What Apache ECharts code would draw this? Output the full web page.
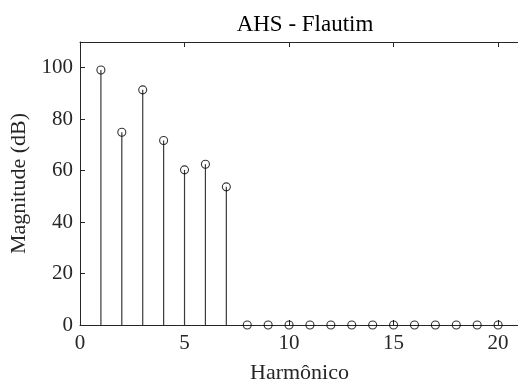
<!DOCTYPE html>
<html>
<head>
<meta charset="utf-8">
<script src="https://cdn.jsdelivr.net/npm/echarts@6/dist/echarts.min.js"></script>
<style>
  html, body { margin: 0; padding: 0; background: #fff; }
  #chart { width: 518px; height: 385px; }
</style>
</head>
<body>
<div id="chart"></div>
<script>
// harmonic numbers and their magnitudes (dB)
const harmonics = [1, 2, 3, 4, 5, 6, 7, 8, 9, 10, 11, 12, 13, 14, 15, 16, 17, 18, 19, 20];
const magnitudes = [99.1, 74.9, 91.4, 71.7, 60.3, 62.5, 53.7, 0, 0, 0, 0, 0, 0, 0, 0, 0, 0, 0, 0, 0];
const xTicks = [0, 5, 10, 15, 20];
const yTicks = [0, 20, 40, 60, 80, 100];

const stemData = harmonics.map((h, i) => [h, magnitudes[i]]);
const font = '"Liberation Serif", "DejaVu Serif", serif';
const axisColor = '#262626';
const textColor = '#262626';

const chart = echarts.init(document.getElementById('chart'));

const tickStyle = { show: true, inside: true, length: 5, lineStyle: { color: axisColor } };

chart.setOption({
  backgroundColor: '#fff',
  animation: false,
  title: {
    text: 'AHS - Flautim',
    left: 300,
    top: 8,
    textAlign: 'center',
    textStyle: { fontFamily: font, fontSize: 23, fontWeight: 'normal', color: '#000' }
  },
  grid: { left: 80, right: -1, top: 42, bottom: 60, outerBoundsMode: 'none' },
  xAxis: [{
    type: 'value',
    min: 0,
    max: 21,
    interval: 5,
    name: 'Harmônico',
    nameLocation: 'middle',
    nameGap: 37,
    nameTextStyle: { fontFamily: font, fontSize: 22, color: textColor },
    axisLine: { show: true, onZero: false, lineStyle: { color: axisColor, width: 1 } },
    axisTick: tickStyle,
    axisLabel: {
      fontFamily: font, fontSize: 21, color: textColor, margin: 8,
      formatter: v => xTicks.includes(v) ? String(v) : ''
    },
    splitLine: { show: false }
  }, {
    type: 'value',
    position: 'top',
    min: 0,
    max: 21,
    interval: 5,
    axisLine: { show: true, onZero: false, lineStyle: { color: axisColor, width: 1 } },
    axisTick: tickStyle,
    axisLabel: { show: false },
    splitLine: { show: false }
  }],
  yAxis: {
    type: 'value',
    min: 0,
    max: 110,
    interval: 20,
    name: 'Magnitude (dB)',
    nameLocation: 'middle',
    nameGap: 48,
    nameTextStyle: { fontFamily: font, fontSize: 22, color: textColor },
    axisLine: { show: true, onZero: false, lineStyle: { color: axisColor, width: 1 } },
    axisTick: tickStyle,
    axisLabel: {
      fontFamily: font, fontSize: 21, color: textColor, margin: 7,
      formatter: v => yTicks.includes(v) ? String(v) : ''
    },
    splitLine: { show: false }
  },
  series: [{
    type: 'custom',
    data: stemData,
    renderItem: (params, api) => {
      const top = api.coord([api.value(0), api.value(1)]);
      const base = api.coord([api.value(0), 0]);
      return {
        type: 'line',
        shape: { x1: base[0], y1: base[1], x2: top[0], y2: top[1] },
        style: { stroke: '#3a3a3a', lineWidth: 1.2 }
      };
    },
    z: 2
  }, {
    type: 'scatter',
    data: stemData,
    symbol: 'circle',
    symbolSize: 8,
    itemStyle: { color: 'rgba(255,255,255,0)', borderColor: '#000', borderWidth: 1.1 },
    z: 3
  }]
});
</script>
</body>
</html>
